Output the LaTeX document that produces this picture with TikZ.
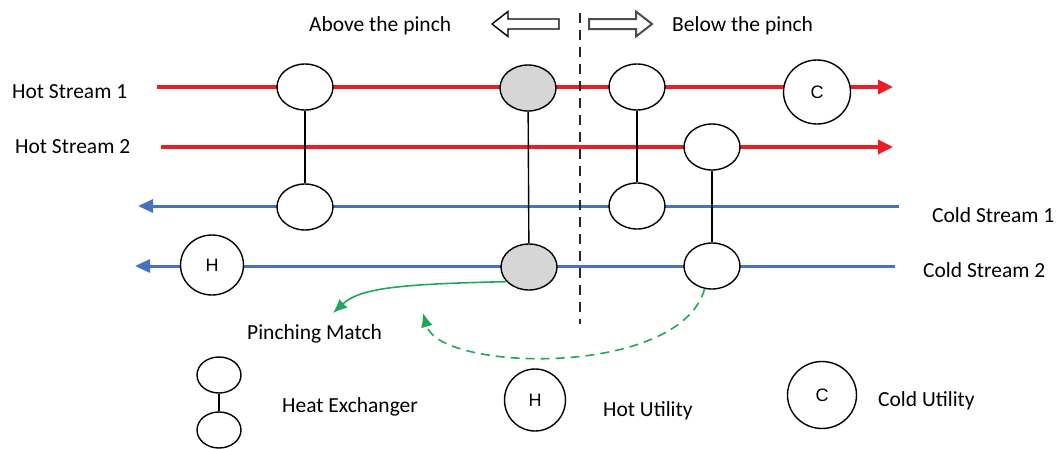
\documentclass[tikz,border=0pt]{standalone}
\usepackage{fontspec}
\setmainfont{Carlito}
\newfontfamily\letterfont{Liberation Sans}
\usetikzlibrary{arrows.meta,shapes.geometric}

\definecolor{hotred}{HTML}{EE1C25}
\definecolor{coldblue}{HTML}{4472C4}
\definecolor{matchgreen}{HTML}{1FA85A}
\definecolor{pinchgray}{HTML}{D6D6D6}

\begin{document}
\begin{tikzpicture}[x=1pt,y=-1pt,
  hot/.style={line width=3.4pt, draw=hotred, -{Triangle[length=15pt,width=14pt]}},
  cold/.style={line width=3pt, draw=coldblue, -{Triangle[length=15pt,width=13pt]}},
  hx/.style={ellipse, draw, line width=1.4pt, fill=white, minimum width=56pt, minimum height=46pt, inner sep=0pt},
  pinchhx/.style={hx, fill=pinchgray},
  util/.style={ellipse, draw, line width=1.4pt, fill=white, inner sep=0pt,
    font=\letterfont\fontsize{18}{18}\selectfont},
  link/.style={line width=1.4pt},
  lbl/.style={anchor=base west, inner sep=0pt, font=\fontsize{21.5}{25}\selectfont},
  blockarrow/.style={line width=1.4pt, line join=miter},
  match/.style={line width=1.6pt, draw=matchgreen, -{Latex[length=14pt,width=12pt]}},
]
\useasboundingbox (0,0) rectangle (1061,448);

% stream end points
\coordinate (h1a) at (157,87);  \coordinate (h1b) at (893,87);
\coordinate (h2a) at (161,147); \coordinate (h2b) at (893,147);
\coordinate (c1a) at (899,206); \coordinate (c1b) at (138,206);
\coordinate (c2a) at (895,266); \coordinate (c2b) at (135,266);

% streams
\draw[hot]  (h1a) -- (h1b);
\draw[hot]  (h2a) -- (h2b);
\draw[cold] (c1a) -- (c1b);
\draw[cold] (c2a) -- (c2b);

% pinch line
\coordinate (pt) at (580,13);
\coordinate (pb) at (580,324);
\draw[line width=1.3pt, black!85, dash pattern=on 10pt off 7pt] (pt) -- (pb);

% heat exchangers
\node[hx] (e1h) at (305,87) {};
\node[hx] (e1c) at (305,207) {};
\node[pinchhx] (e2h) at (528,88) {};
\node[pinchhx] (e2c) at (529,267) {};
\node[hx] (e3h) at (637,87) {};
\node[hx] (e3c) at (637,206) {};
\node[hx] (e4h) at (712,147) {};
\node[hx] (e4c) at (712,266) {};
\draw[link] (e1h) -- (e1c);
\draw[link] (e2h) -- (e2c);
\draw[link] (e3h) -- (e3c);
\draw[link] (e4h) -- (e4c);

% utilities on the streams
\node[util, minimum width=67pt, minimum height=64pt] (cu) at (817,92) {C};
\node[util, minimum width=63pt, minimum height=60pt] (hu) at (212,265) {H};

% stream labels
\node[lbl] (l1) at (12,98) {Hot Stream 1};
\node[lbl] (l2) at (15,153) {Hot Stream 2};
\node[lbl] (l3) at (932,222) {Cold Stream 1};
\node[lbl] (l4) at (923,277) {Cold Stream 2};

% region labels and block arrows
\node[lbl] (above) at (309,31) {Above the pinch};
\node[lbl] (below) at (672,31) {Below the pinch};
\draw[blockarrow, fill=white]
  (492,24) -- (508,11.5) -- (508,19) -- (559,19) -- (559,29) -- (508,29) -- (508,36.5) -- cycle;
\draw[blockarrow, line width=2pt, draw=black!70, fill=white]
  (652,24) -- (636,11.5) -- (636,19) -- (589,19) -- (589,29) -- (636,29) -- (636,36.5) -- cycle;

% pinching match annotation
\coordinate (pm) at (333,313);
\coordinate (dm) at (423,313);
\draw[match] (e2c.213) .. controls (400,284) and (360,288) .. (pm);
\draw[match, dash pattern=on 9pt off 6pt] (e4c.252) .. controls (680,378) and (440,372) .. (dm);
\node[lbl] (pml) at (247,339) {Pinching Match};

% legend
\node[hx, minimum width=44pt, minimum height=36pt] (lgt) at (219,375) {};
\node[hx, minimum width=44pt, minimum height=36pt] (lgb) at (219,430) {};
\draw[link] (lgt) -- (lgb);
\node[lbl] (lhx) at (282,412) {Heat Exchanger};
\node[util, minimum width=61pt, minimum height=62pt] (lh) at (535,400) {H};
\node[lbl] (lhu) at (603,416) {Hot Utility};
\node[util, minimum width=69pt, minimum height=67pt] (lc) at (822,395) {C};
\node[lbl] (lcu) at (878,406) {Cold Utility};
\end{tikzpicture}
\end{document}
